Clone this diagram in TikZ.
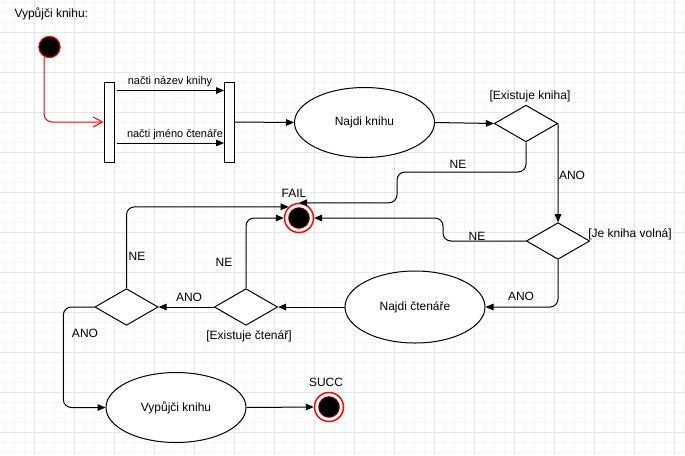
\documentclass[tikz,border=0pt]{standalone}
\usepackage{fontspec}
\setmainfont{Liberation Sans}
\usetikzlibrary{shapes.geometric,arrows.meta}
\definecolor{minorgrid}{HTML}{F6F6F6}
\definecolor{majorgrid}{HTML}{E6E6E6}
\begin{document}
\begin{tikzpicture}[x=0.75pt,y=-0.75pt,
  every path/.style={line width=0.75pt},
  txt/.style={font=\fontsize{9}{10}\selectfont, inner sep=0pt},
  smalltxt/.style={font=\fontsize{8.25}{9}\selectfont, inner sep=0pt},
  arr/.style={-{Triangle[length=6pt,width=5pt]}, rounded corners=6pt},
  ell/.style={ellipse, draw, fill=white, minimum width=105pt, minimum height=52.5pt, inner sep=0pt, font=\fontsize{9}{10}\selectfont},
  dia/.style={diamond, draw, fill=white, minimum width=47.5pt, minimum height=27.5pt, inner sep=0pt},
  barbox/.style={rectangle, draw, fill=white, minimum width=7.5pt, minimum height=60pt, inner sep=0pt},
  startst/.style={circle, draw=red, fill=black, minimum size=16pt, inner sep=0pt},
  endst/.style={circle, draw=red, line width=1.1pt, fill=white, minimum size=21.75pt, inner sep=0pt,
     path picture={\filldraw[fill=black, draw=red, line width=0.4pt] (path picture bounding box.center) circle (7.9pt);}}
]
% background and grid
\fill[white] (0,0) rectangle (685,455);
\useasboundingbox (0,0) rectangle (685,455);
\foreach \x in {4,14,...,684} \draw[minorgrid, line width=0.75pt] (\x,0) -- (\x,455);
\foreach \y in {2,12,...,452} \draw[minorgrid, line width=0.75pt] (0,\y) -- (685,\y);
\foreach \x in {34,74,...,674} \draw[majorgrid, line width=0.75pt] (\x,0) -- (\x,455);
\foreach \y in {32,72,...,432} \draw[majorgrid, line width=0.75pt] (0,\y) -- (685,\y);

% title
\node[txt, anchor=west] (title) at (14,14) {Vypůjči knihu:};

% nodes
\node[startst] (start) at (49.5,47) {};
\node[barbox] (bar1) at (109,122) {};
\node[barbox] (bar2) at (229.5,122) {};
\node[ell] (najdi) at (364.5,122.5) {Najdi knihu};
\node[dia] (d1) at (526,123.5) {};
\node[dia] (d2) at (558,241) {};
\node[endst] (fail) at (299,218) {};
\node[ell, minimum height=54pt] (najdic) at (415,307) {Najdi čtenáře};
\node[dia] (d3) at (246,307) {};
\node[dia] (d4) at (126.5,307) {};
\node[ell] (vyp) at (176,407.5) {Vypůjči knihu};
\node[endst] (succ) at (329,407) {};

\coordinate (r1) at (0,90.5);
\coordinate (r2) at (0,143);

% connectors
\draw[red, -{Straight Barb[length=7pt,width=7.5pt]}, rounded corners=6pt] (start.241) |- (bar1.west);
\draw[arr] ([xshift=1.5pt]bar1.east |- r1) -- (bar2.west |- r1);
\draw[arr] ([xshift=1.5pt]bar1.east |- r2) -- (bar2.west |- r2);
\draw[arr] (bar2.east) -- (najdi.west);
\draw[arr] (najdi.east) -- (d1.west);
\draw[arr] (d1.east) -- (d2.north);
\draw[arr] (d1.south) |- (397,172) |- (fail.north);
\draw[arr] (d2.west) -| (443,218) -- (fail.east);
\draw[arr] (d2.south) |- (najdic.east);
\draw[arr] (najdic.west) -- (d3.east);
\draw[arr] (d3.west) -- (d4.east);
\draw[arr] (d3.north) |- (fail.west);
\draw[arr] (d4.north) |- (fail.133);
\draw[arr] (d4.west) -- ++(-31,0) |- (vyp.west);
\draw[arr] (vyp.east) -- (succ.west);

% labels
\node[smalltxt] (l1) at (170,82) {načti název knihy};
\node[smalltxt] (l2) at (175,135) {načti jméno čtenáře};
\node[txt] (lek) at (530,96) {[Existuje kniha]};
\node[txt] (lne1) at (458,164) {NE};
\node[txt] (lano1) at (572,175) {ANO};
\node[txt] (ljkv) at (630,234) {[Je kniha volná]};
\node[txt] (lne2) at (477,236) {NE};
\node[txt] (lfail) at (294,193) {FAIL};
\node[txt] (lne3) at (137,256) {NE};
\node[txt] (lne4) at (224,262) {NE};
\node[txt] (lano2) at (189,297) {ANO};
\node[txt] (lec) at (249,336) {[Existuje čtenář]};
\node[txt] (lano3) at (85,333) {ANO};
\node[txt] (lano4) at (521,296) {ANO};
\node[txt] (lsucc) at (326,382) {SUCC};
\end{tikzpicture}
\end{document}
